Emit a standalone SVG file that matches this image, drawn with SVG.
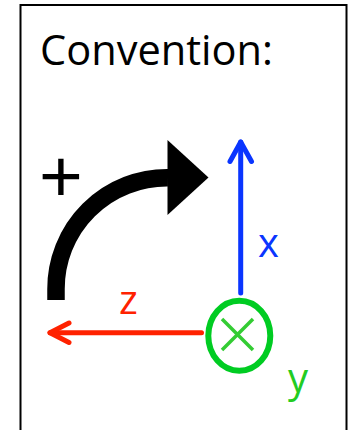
<svg xmlns="http://www.w3.org/2000/svg" width="350" height="430" viewBox="0 0 350 430">
<style>
.lbl{font-family:"Open Sans","Liberation Sans",sans-serif;}
.ax{fill:none;stroke-width:5;stroke-linecap:round;stroke-linejoin:round;}
</style>
<rect width="350" height="430" fill="#fff"/>
<rect x="20.5" y="5" width="326" height="440" fill="none" stroke="#000" stroke-width="2"/>
<g id="title">
<text class="lbl" x="40" y="65" font-size="42" textLength="233" lengthAdjust="spacingAndGlyphs" fill="#000">Convention:</text>
</g>
<g id="rotation">
<text x="39" y="202" font-family="Liberation Sans,sans-serif" font-size="75" fill="#000">+</text>
<path d="M56,300 L56,289 A111,111 0 0 1 168,177.7" fill="none" stroke="#000" stroke-width="17.5"/>
<polygon points="167.5,140 208.5,177.5 167.5,215" fill="#000"/>
</g>
<g id="connectors">
<g id="x-axis">
<path class="ax" d="M240.7,293 L240.7,142" stroke="#0a35ff"/>
<path class="ax" d="M230,161.5 L240.7,142 L251.5,161.5" stroke="#0a35ff"/>
</g>
<g id="z-axis">
<path class="ax" d="M201.5,332.7 L50,332.7" stroke="#ff2200"/>
<path class="ax" d="M69,323 L50,332.7 L69,342.5" stroke="#ff2200"/>
</g>
</g>
<g id="y-axis">
<ellipse cx="239.3" cy="335.8" rx="31" ry="35" fill="none" stroke="#00cc22" stroke-width="6"/>
<path d="M222,319 L253,350 M253,319 L222,350" stroke="#33cc33" stroke-width="3.5" fill="none"/>
</g>
<g id="labels">
<text class="lbl" x="258" y="257" font-size="40" fill="#0a35ff">x</text>
<text class="lbl" x="288" y="392" font-size="40" fill="#22cc22">y</text>
<text class="lbl" x="119" y="314" font-size="40" fill="#ff2200">z</text>
</g>
</svg>
